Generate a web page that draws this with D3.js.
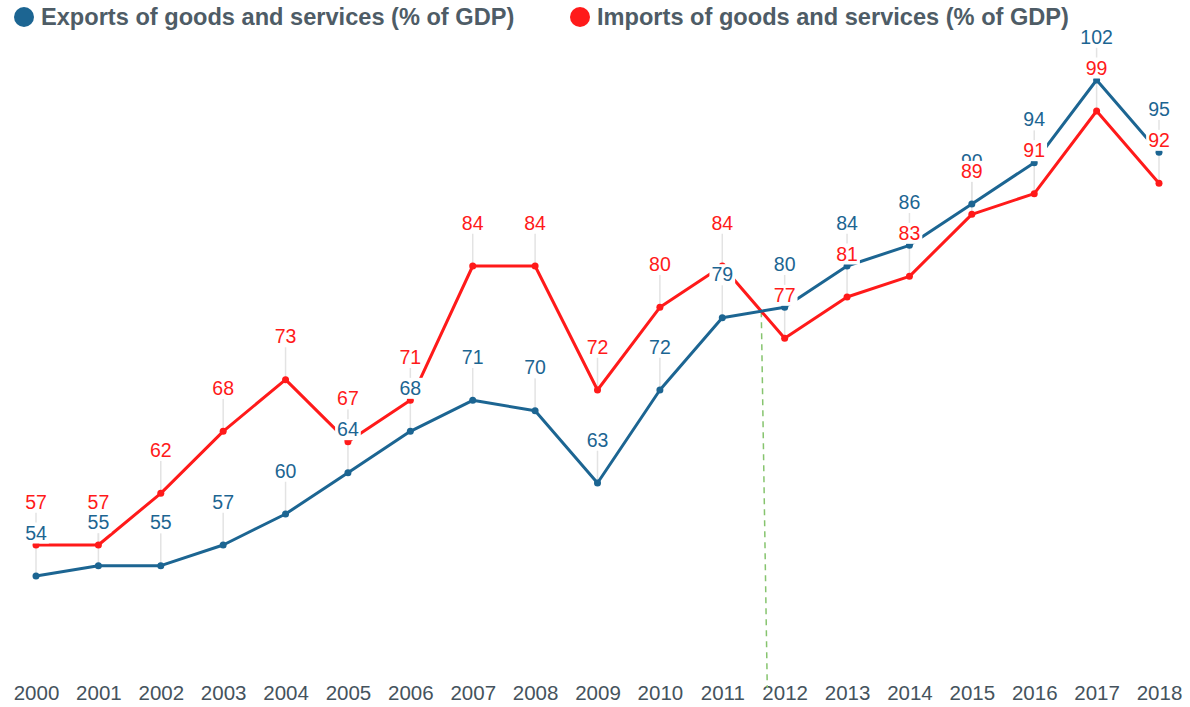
<!DOCTYPE html>
<html>
<head>
<meta charset="utf-8">
<script src="https://cdn.jsdelivr.net/npm/d3@7/dist/d3.min.js"></script>
<style>
  html, body { margin: 0; padding: 0; background: #fff; }
  svg { display: block; font-family: "Liberation Sans", Arial, sans-serif; }
</style>
</head>
<body>
<svg id="chart" width="1190" height="707"></svg>
<script>
// Trade as a share of GDP, 2000–2018
const years = ["2000","2001","2002","2003","2004","2005","2006","2007","2008","2009",
               "2010","2011","2012","2013","2014","2015","2016","2017","2018"];
const exportsPct = [54, 55, 55, 57, 60, 64, 68, 71, 70, 63, 72, 79, 80, 84, 86, 90, 94, 102, 95];
const importsPct = [57, 57, 62, 68, 73, 67, 71, 84, 84, 72, 80, 84, 77, 81, 83, 89, 91, 99, 92];
const seriesNames = ["Exports of goods and services (% of GDP)", "Imports of goods and services (% of GDP)"];

const BLUE = "#1c6592";
const RED = "#ff1a1a";

const svg = d3.select("#chart");

const x = d3.scalePoint().domain(years).range([36, 1159]);
const y = d3.scaleLinear().domain([54, 102]).range([576, 80]);

const series = [
  { name: seriesNames[0], values: exportsPct, color: BLUE },
  { name: seriesNames[1], values: importsPct, color: RED }
];

// Legend
const legend = svg.append("g");
const legendX = [24, 580];
series.forEach((s, i) => {
  const g = legend.append("g").attr("transform", `translate(${legendX[i]},17)`);
  g.append("circle").attr("r", 10).attr("fill", s.color);
  g.append("text")
    .attr("x", 17).attr("y", 8)
    .attr("font-size", 23.6).attr("font-weight", "bold")
    .attr("fill", "#4e5c66")
    .text(s.name);
});

// X axis (labels only)
const xAxis = svg.append("g")
  .attr("transform", "translate(0,685)")
  .call(d3.axisBottom(x).tickSize(0).tickPadding(0));
xAxis.select(".domain").remove();
xAxis.selectAll("text")
  .attr("dy", "0.71em")
  .attr("font-size", 20.5)
  .attr("font-family", "Liberation Sans, Arial, sans-serif")
  .attr("fill", "#45535d");

const LABEL_OFFSET = 43;   // label centre sits this far above its point
const BOX_H = 21;

// Leader lines from each value label down to its point
const leaders = svg.append("g");
series.forEach(s => {
  leaders.selectAll(null).data(s.values).enter().append("line")
    .attr("x1", (d, i) => x(years[i])).attr("x2", (d, i) => x(years[i]))
    .attr("y1", d => y(d) - LABEL_OFFSET + BOX_H / 2)
    .attr("y2", d => y(d))
    .attr("stroke", "#e3e3e3").attr("stroke-width", 1.5);
});

// Crossover marker: where imports fall below exports
let cross = null;
for (let i = 0; i < years.length - 1 && !cross; i++) {
  const d0 = importsPct[i] - exportsPct[i];
  const d1 = importsPct[i + 1] - exportsPct[i + 1];
  if (d0 > 0 && d1 < 0) {
    const t = d0 / (d0 - d1);
    const cx = x(years[i]) + t * (x(years[i + 1]) - x(years[i]));
    const cy = y(exportsPct[i] + t * (exportsPct[i + 1] - exportsPct[i]));
    cross = { cx, cy };
  }
}
if (cross) {
  svg.append("line")
    .attr("x1", cross.cx).attr("x2", cross.cx + 6)
    .attr("y1", cross.cy).attr("y2", 688)
    .attr("stroke", "#86c46e").attr("stroke-width", 1.5)
    .attr("stroke-dasharray", "6,5");
}

// Lines and points
const line = d3.line().x((d, i) => x(years[i])).y(d => y(d));
[series[1], series[0]].forEach(s => {
  svg.append("path")
    .datum(s.values)
    .attr("d", line)
    .attr("fill", "none")
    .attr("stroke", s.color)
    .attr("stroke-width", 3)
    .attr("stroke-linejoin", "round");
  svg.append("g").selectAll("circle").data(s.values).enter().append("circle")
    .attr("cx", (d, i) => x(years[i]))
    .attr("cy", d => y(d))
    .attr("r", 3.5)
    .attr("fill", s.color);
});

// Value labels on white boxes (imports drawn last, on top)
series.forEach(s => {
  const g = svg.append("g");
  s.values.forEach((v, i) => {
    const lx = x(years[i]);
    const ly = y(v) - LABEL_OFFSET;
    const t = g.append("text")
      .attr("x", lx).attr("y", ly)
      .attr("dy", "0.35em")
      .attr("text-anchor", "middle")
      .attr("font-size", 19.5)
      .attr("fill", s.color)
      .text(v);
    const w = t.node().getComputedTextLength();
    g.insert("rect", () => t.node())
      .attr("x", lx - w / 2 - 2).attr("y", ly - BOX_H / 2)
      .attr("width", w + 4).attr("height", BOX_H)
      .attr("fill", "#fff");
  });
});
</script>
</body>
</html>
